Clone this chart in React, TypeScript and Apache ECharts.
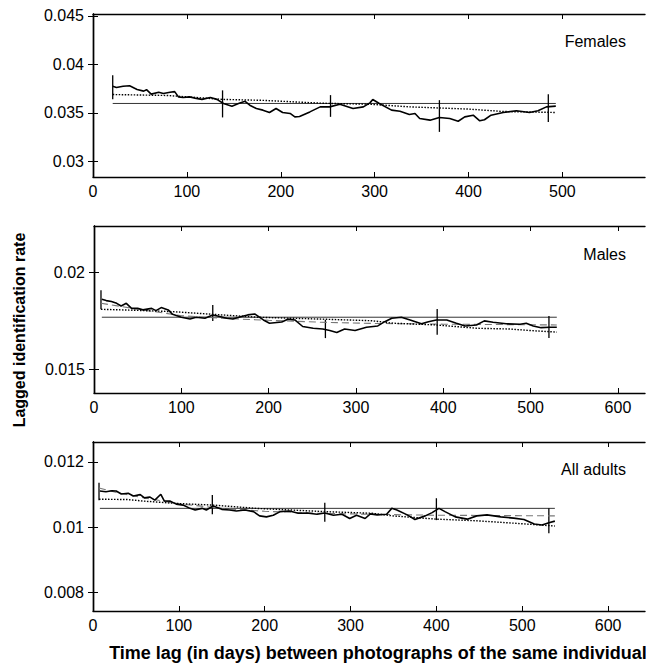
import React, { useEffect, useRef } from "react";
import * as echarts from "echarts";

// ---------- DATA ----------
// Females
const femLag = [21,25,32,39,47,54,57,62,70,75,82,87,91,96,103,110,116,125,132,139,148,155,162,167,174,181,188,195,202,210,215,220,231,242,252,263,277,288,295,298,305,318,327,337,343,348,359,369,380,389,396,405,412,417,424,437,451,465,474,483,493];
const femRate = [0.03776,0.03763,0.03776,0.0378,0.03742,0.03725,0.0374,0.03694,0.03714,0.037,0.03714,0.0372,0.03666,0.0366,0.03666,0.0365,0.0364,0.0366,0.0364,0.03598,0.0357,0.03598,0.0362,0.0358,0.03546,0.03529,0.03505,0.03546,0.03505,0.03495,0.0346,0.03463,0.03511,0.03563,0.03563,0.0359,0.03546,0.03563,0.03604,0.03639,0.03598,0.03529,0.03518,0.03484,0.03494,0.03443,0.03426,0.03454,0.03443,0.03415,0.0346,0.03477,0.03419,0.0343,0.03477,0.03505,0.03522,0.03505,0.03522,0.03563,0.0357];
const femDotLag = [21,80,138,181,245,295,337,400,437,493];
const femDotRate = [0.0369,0.0368,0.0364,0.0363,0.036,0.0359,0.03563,0.0354,0.03515,0.03505];
const femConst = 0.03598;
const femBarLag = [21,138,253,369,485];
const femBarLo = [0.03642,0.03454,0.0346,0.03305,0.03408];
const femBarHi = [0.0389,0.03733,0.03684,0.03632,0.03694];

// Males
const malLag = [9,14,20,26,31,37,43,50,56,66,71,77,85,90,100,110,117,127,136,144,152,159,169,176,184,194,201,215,222,230,239,251,262,270,278,287,299,312,325,333,341,352,362,375,383,392,404,415,425,438,447,457,472,488,495,503,512,522,530];
const malRate = [0.01861,0.01854,0.01849,0.0184,0.01826,0.0184,0.01814,0.01814,0.01806,0.01814,0.01802,0.01818,0.01806,0.01783,0.01768,0.01759,0.01768,0.01763,0.0178,0.01772,0.01763,0.01759,0.01772,0.0178,0.01785,0.01754,0.01737,0.01743,0.01758,0.01754,0.0172,0.01711,0.01707,0.01699,0.01689,0.01707,0.01699,0.01716,0.01723,0.01745,0.01763,0.01768,0.01754,0.01734,0.01745,0.01754,0.01754,0.01737,0.01723,0.01728,0.01749,0.01742,0.01734,0.01732,0.01737,0.01723,0.01714,0.01716,0.01716];
const malDotLag = [8,40,90,136,188,262,318,343,392,438,476,500,530];
const malDotRate = [0.01809,0.01805,0.01797,0.01783,0.01768,0.01758,0.0175,0.01737,0.01728,0.01711,0.01707,0.01699,0.01691];
const malDashLag = [8,50,100,150,200,260,320,400,470,530];
const malDashRate = [0.0184,0.0181,0.01776,0.01762,0.01752,0.01742,0.01736,0.01732,0.0173,0.01728];
const malConst = 0.01768;
const malBarLag = [8,136,265,393,521];
const malBarLo = [0.01809,0.01749,0.0166,0.01677,0.0166];
const malBarHi = [0.01908,0.01831,0.01754,0.01811,0.01775];

// All adults
const allLag = [8,15,22,27,33,41,47,55,60,66,72,79,83,90,97,105,113,119,127,132,140,150,159,167,177,187,194,202,210,218,229,239,249,261,270,280,290,299,307,317,323,331,342,348,354,366,375,387,395,403,410,422,436,447,459,475,490,502,514,523,531,538];
const allRate = [0.01111,0.01109,0.01112,0.01111,0.01102,0.01104,0.01096,0.011,0.0109,0.01093,0.01083,0.01101,0.01081,0.0108,0.01071,0.01068,0.01058,0.01053,0.01058,0.01053,0.01065,0.01055,0.01053,0.0105,0.01053,0.01048,0.01035,0.01032,0.01037,0.01048,0.0105,0.01043,0.01044,0.0104,0.01044,0.01037,0.0104,0.01027,0.01037,0.01027,0.01041,0.01038,0.0104,0.01058,0.01053,0.01038,0.01024,0.01035,0.01045,0.01058,0.01048,0.01032,0.01025,0.01035,0.01038,0.01032,0.01028,0.01024,0.0101,0.01007,0.01014,0.01019];
const allDotLag = [7,40,60,97,140,190,270,325,349,400,447,494,538];
const allDotRate = [0.01086,0.01085,0.0108,0.01073,0.01068,0.01058,0.01048,0.01043,0.01035,0.01025,0.0102,0.01012,0.01004];
const allDashLag = [7,30,60,100,150,200,260,320,400,470,538];
const allDashRate = [0.0112,0.01105,0.0109,0.01072,0.01058,0.01049,0.01043,0.0104,0.01037,0.01036,0.01035];
const allConst = 0.01058;
const allBarLag = [7,139,270,400,531];
const allBarLo = [0.01083,0.0104,0.01017,0.01022,0.00982];
const allBarHi = [0.01136,0.01099,0.01075,0.01089,0.01058];

// Axis ticks
const femXTicks = [0,100,200,300,400,500];
const malXTicks = [0,100,200,300,400,500,600];
const allXTicks = [0,100,200,300,400,500,600];
const femYTicks = [0.03,0.035,0.04,0.045];
const malYTicks = [0.015,0.02];
const allYTicks = [0.008,0.01,0.012];

const panelNames = ["Females", "Males", "All adults"];
const xTitle = "Time lag (in days) between photographs of the same individual";
const yTitle = "Lagged identification rate";

const FONT = "'Liberation Sans', Arial, Helvetica, sans-serif";

const zip = (a: number[], b: number[]) => a.map((v, i) => [v, b[i]]);

export default function App() {
  const ref = useRef<HTMLDivElement>(null);
  useEffect(() => {
    if (!ref.current) return;
    const chart = echarts.init(ref.current, undefined, { renderer: "svg" });

    const panels = [
      {
        grid: { left: 93, top: 14, width: 552, height: 163 },
        xMax: 588, yMin: 0.0284, yMax: 0.0452,
        xTicks: femXTicks, yTicks: femYTicks,
        lag: femLag, rate: femRate, dotLag: femDotLag, dotRate: femDotRate,
        dashLag: null as number[] | null, dashRate: null as number[] | null,
        cst: femConst, barLag: femBarLag, barLo: femBarLo, barHi: femBarHi,
        label: panelNames[0], labelY: 42,
      },
      {
        grid: { left: 94, top: 226, width: 551, height: 167 },
        xMax: 631, yMin: 0.01376, yMax: 0.0224,
        xTicks: malXTicks, yTicks: malYTicks,
        lag: malLag, rate: malRate, dotLag: malDotLag, dotRate: malDotRate,
        dashLag: malDashLag, dashRate: malDashRate,
        cst: malConst, barLag: malBarLag, barLo: malBarLo, barHi: malBarHi,
        label: panelNames[1], labelY: 255,
      },
      {
        grid: { left: 93, top: 442, width: 552, height: 169 },
        xMax: 643, yMin: 0.00744, yMax: 0.01261,
        xTicks: allXTicks, yTicks: allYTicks,
        lag: allLag, rate: allRate, dotLag: allDotLag, dotRate: allDotRate,
        dashLag: allDashLag, dashRate: allDashRate,
        cst: allConst, barLag: allBarLag, barLo: allBarLo, barHi: allBarHi,
        label: panelNames[2], labelY: 470,
      },
    ];

    const axisLine = { show: true, lineStyle: { color: "#000", width: 1.4 } };
    const grids: any[] = [];
    const xAxes: any[] = [];
    const yAxes: any[] = [];
    const series: any[] = [];
    const graphics: any[] = [];

    panels.forEach((p, i) => {
      grids.push({ ...p.grid, containLabel: false });
      const xBase = {
        type: "value", gridIndex: i, min: 0, max: p.xMax,
        splitLine: { show: false }, axisLine,
      };
      xAxes.push({
        ...xBase, position: "bottom",
        axisTick: { show: true, inside: true, length: 5, customValues: p.xTicks, lineStyle: { color: "#000", width: 1 } },
        axisLabel: { show: true, customValues: p.xTicks, color: "#000", fontSize: 16, fontFamily: FONT, margin: 6 },
      });
      xAxes.push({
        ...xBase, position: "top",
        axisTick: { show: true, inside: true, length: 5, customValues: p.xTicks, lineStyle: { color: "#000", width: 1 } },
        axisLabel: { show: false },
      });
      const yBase = {
        type: "value", gridIndex: i, min: p.yMin, max: p.yMax,
        splitLine: { show: false }, axisLine,
      };
      yAxes.push({
        ...yBase, position: "left",
        axisTick: { show: true, inside: true, length: 5, customValues: p.yTicks, lineStyle: { color: "#000", width: 1 } },
        axisLabel: { show: true, customValues: p.yTicks, color: "#000", fontSize: 16, fontFamily: FONT, margin: 9, formatter: (v: number) => String(v) },
      });
      yAxes.push({
        ...yBase, position: "right",
        axisTick: { show: true, inside: true, length: 5, customValues: p.yTicks, lineStyle: { color: "#000", width: 1 } },
        axisLabel: { show: false },
      });
      const xi = i * 2;
      const yi = i * 2;
      // constant line
      series.push({
        type: "line", xAxisIndex: xi, yAxisIndex: yi, symbol: "none", silent: true,
        data: [[p.lag[0], p.cst], [p.lag[p.lag.length - 1], p.cst]],
        lineStyle: { color: "#000", width: 0.8 },
      });
      if (p.dashLag && p.dashRate) {
        series.push({
          type: "line", xAxisIndex: xi, yAxisIndex: yi, symbol: "none", silent: true,
          data: zip(p.dashLag, p.dashRate),
          lineStyle: { color: "#777", width: 1.1, type: [7, 4] },
        });
      }
      series.push({
        type: "line", xAxisIndex: xi, yAxisIndex: yi, symbol: "none", silent: true,
        data: zip(p.dotLag, p.dotRate),
        lineStyle: { color: "#000", width: 1.4, type: [1.5, 1.5] },
      });
      series.push({
        type: "line", xAxisIndex: xi, yAxisIndex: yi, symbol: "none", silent: true,
        data: zip(p.lag, p.rate),
        lineStyle: { color: "#000", width: 1.6 },
      });
      series.push({
        type: "custom", xAxisIndex: xi, yAxisIndex: yi, silent: true,
        data: p.barLag.map((v, k) => [v, p.barLo[k], p.barHi[k]]),
        encode: { x: 0, y: [1, 2] },
        renderItem: (params: any, api: any) => {
          const a = api.coord([api.value(0), api.value(1)]);
          const b = api.coord([api.value(0), api.value(2)]);
          return {
            type: "line",
            shape: { x1: a[0], y1: a[1], x2: b[0], y2: b[1] },
            style: { stroke: "#000", lineWidth: 1.3 },
          };
        },
      });
      graphics.push({
        type: "text", right: 20, top: p.labelY - 9,
        style: { text: p.label, fill: "#000", font: `16px ${FONT}` },
      });
    });

    graphics.push({
      type: "text", x: 19, y: 330, rotation: Math.PI / 2,
      style: { text: yTitle, fill: "#000", font: `bold 16px ${FONT}`, textAlign: "center", textVerticalAlign: "middle" },
    });
    graphics.push({
      type: "text", x: 378, y: 653,
      style: { text: xTitle, fill: "#000", font: `bold 18px ${FONT}`, textAlign: "center", textVerticalAlign: "middle" },
    });

    chart.setOption({
      animation: false,
      backgroundColor: "#fff",
      grid: grids,
      xAxis: xAxes,
      yAxis: yAxes,
      series,
      graphic: graphics,
    });
    return () => chart.dispose();
  }, []);
  return (
    <div
      ref={ref}
      style={{ position: "absolute", left: 0, top: 0, width: 646, height: 664 }}
    />
  );
}
